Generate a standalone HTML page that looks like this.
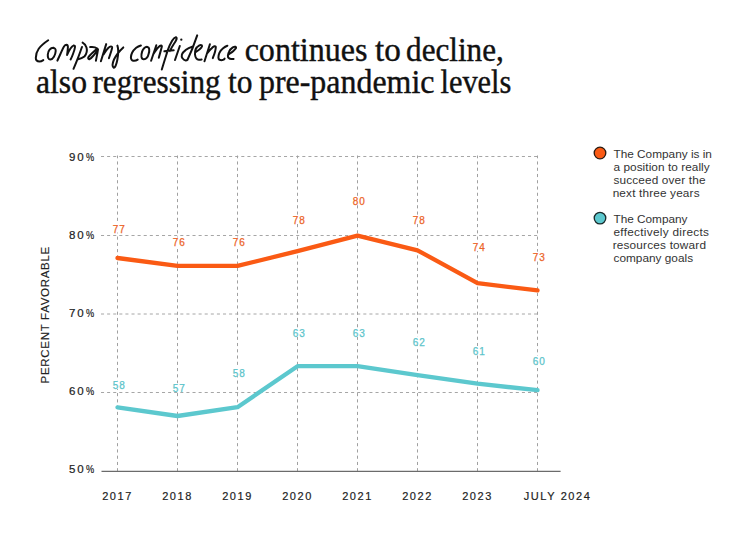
<!DOCTYPE html>
<html><head><meta charset="utf-8"><style>
html,body{margin:0;padding:0;background:#fff;width:750px;height:544px;overflow:hidden}
svg{display:block}
.dl{font-family:"Liberation Sans",sans-serif;font-size:10px;text-anchor:middle;stroke-width:0.25px;letter-spacing:0.9px}
.yl{font-family:"Liberation Sans",sans-serif;font-size:11.5px;fill:#222;stroke:#222;stroke-width:0.2px;letter-spacing:1.9px}
.xl{font-family:"Liberation Sans",sans-serif;font-size:11px;text-anchor:middle;fill:#222;stroke:#222;stroke-width:0.18px;letter-spacing:1.55px}
.at{font-family:"Liberation Sans",sans-serif;font-size:11.5px;text-anchor:middle;fill:#222;stroke:#222;stroke-width:0.15px;letter-spacing:0.7px}
.lg{font-family:"Liberation Sans",sans-serif;font-size:11.8px;fill:#333333}
.tt{font-family:"Liberation Serif",serif;font-size:33px;fill:#111;stroke:#111;stroke-width:0.4px}
.halo{fill:#fff;stroke:#fff;stroke-width:2.6px!important}
.hw{fill:none;stroke:#111;stroke-width:2.0;stroke-linecap:round;stroke-linejoin:round}
</style></head><body>
<svg width="750" height="544" viewBox="0 0 750 544">
<line x1="101.0" y1="156.5" x2="537.5" y2="156.5" stroke="#a6a6a6" stroke-width="1" stroke-dasharray="3.05 3.05"/>
<line x1="101.0" y1="235.5" x2="537.5" y2="235.5" stroke="#a6a6a6" stroke-width="1" stroke-dasharray="3.05 3.05"/>
<line x1="101.0" y1="314.0" x2="537.5" y2="314.0" stroke="#a6a6a6" stroke-width="1" stroke-dasharray="3.05 3.05"/>
<line x1="101.0" y1="392.5" x2="537.5" y2="392.5" stroke="#a6a6a6" stroke-width="1" stroke-dasharray="3.05 3.05"/>
<line x1="117.5" y1="471.3" x2="117.5" y2="155.5" stroke="#a0a0a0" stroke-width="1" stroke-dasharray="3.13 3.13"/>
<line x1="177.5" y1="471.3" x2="177.5" y2="155.5" stroke="#a0a0a0" stroke-width="1" stroke-dasharray="3.13 3.13"/>
<line x1="237.5" y1="471.3" x2="237.5" y2="155.5" stroke="#a0a0a0" stroke-width="1" stroke-dasharray="3.13 3.13"/>
<line x1="297.5" y1="471.3" x2="297.5" y2="155.5" stroke="#a0a0a0" stroke-width="1" stroke-dasharray="3.13 3.13"/>
<line x1="357.5" y1="471.3" x2="357.5" y2="155.5" stroke="#a0a0a0" stroke-width="1" stroke-dasharray="3.13 3.13"/>
<line x1="417.5" y1="471.3" x2="417.5" y2="155.5" stroke="#a0a0a0" stroke-width="1" stroke-dasharray="3.13 3.13"/>
<line x1="477.5" y1="471.3" x2="477.5" y2="155.5" stroke="#a0a0a0" stroke-width="1" stroke-dasharray="3.13 3.13"/>
<line x1="537.5" y1="471.3" x2="537.5" y2="155.5" stroke="#a0a0a0" stroke-width="1" stroke-dasharray="3.13 3.13"/>
<line x1="101.5" y1="471.3" x2="560.6" y2="471.3" stroke="#6b6b6b" stroke-width="1.3"/>
<polyline points="117.5,258.0 177.5,265.9 237.5,265.9 297.5,251.2 357.5,235.7 417.5,250.3 477.5,283.2 537.5,290.4" fill="none" stroke="#FA5A14" stroke-width="4.3" stroke-linejoin="round" stroke-linecap="round"/>
<polyline points="117.5,407.4 177.5,416.0 237.5,407.2 297.5,366.2 357.5,366.2 417.5,375.1 477.5,383.7 537.5,390.2" fill="none" stroke="#5CC8CE" stroke-width="4.3" stroke-linejoin="round" stroke-linecap="round"/>
<rect x="112.25" y="224.00" width="14" height="8.6" fill="#fff"/>
<text x="119.25" y="232.90" class="dl" fill="#EC6428" stroke="#EC6428">77</text>
<rect x="172.25" y="237.40" width="14" height="8.6" fill="#fff"/>
<text x="179.25" y="246.30" class="dl" fill="#EC6428" stroke="#EC6428">76</text>
<rect x="232.25" y="237.40" width="14" height="8.6" fill="#fff"/>
<text x="239.25" y="246.30" class="dl" fill="#EC6428" stroke="#EC6428">76</text>
<rect x="292.25" y="215.30" width="14" height="8.6" fill="#fff"/>
<text x="299.25" y="224.20" class="dl" fill="#EC6428" stroke="#EC6428">78</text>
<rect x="352.25" y="196.10" width="14" height="8.6" fill="#fff"/>
<text x="359.25" y="205.00" class="dl" fill="#EC6428" stroke="#EC6428">80</text>
<rect x="412.25" y="215.30" width="14" height="8.6" fill="#fff"/>
<text x="419.25" y="224.20" class="dl" fill="#EC6428" stroke="#EC6428">78</text>
<rect x="472.25" y="242.30" width="14" height="8.6" fill="#fff"/>
<text x="479.25" y="251.20" class="dl" fill="#EC6428" stroke="#EC6428">74</text>
<rect x="532.25" y="251.70" width="14" height="8.6" fill="#fff"/>
<text x="539.25" y="260.60" class="dl" fill="#EC6428" stroke="#EC6428">73</text>
<rect x="112.25" y="380.30" width="14" height="8.6" fill="#fff"/>
<text x="119.25" y="389.20" class="dl" fill="#5CC4CA" stroke="#5CC4CA">58</text>
<rect x="172.25" y="383.30" width="14" height="8.6" fill="#fff"/>
<text x="179.25" y="392.20" class="dl" fill="#5CC4CA" stroke="#5CC4CA">57</text>
<rect x="232.25" y="367.70" width="14" height="8.6" fill="#fff"/>
<text x="239.25" y="376.60" class="dl" fill="#5CC4CA" stroke="#5CC4CA">58</text>
<rect x="292.25" y="328.30" width="14" height="8.6" fill="#fff"/>
<text x="299.25" y="337.20" class="dl" fill="#5CC4CA" stroke="#5CC4CA">63</text>
<rect x="352.25" y="328.30" width="14" height="8.6" fill="#fff"/>
<text x="359.25" y="337.20" class="dl" fill="#5CC4CA" stroke="#5CC4CA">63</text>
<rect x="412.25" y="336.70" width="14" height="8.6" fill="#fff"/>
<text x="419.25" y="345.60" class="dl" fill="#5CC4CA" stroke="#5CC4CA">62</text>
<rect x="472.25" y="346.20" width="14" height="8.6" fill="#fff"/>
<text x="479.25" y="355.10" class="dl" fill="#5CC4CA" stroke="#5CC4CA">61</text>
<rect x="532.25" y="355.80" width="14" height="8.6" fill="#fff"/>
<text x="539.25" y="364.70" class="dl" fill="#5CC4CA" stroke="#5CC4CA">60</text>
<text x="69.0" y="160.8" class="yl">90</text>
<text transform="translate(85.9,160.8) scale(0.8,1)" class="yl">%</text>
<text x="69.0" y="238.7" class="yl">80</text>
<text transform="translate(85.9,238.7) scale(0.8,1)" class="yl">%</text>
<text x="69.0" y="317" class="yl">70</text>
<text transform="translate(85.9,317) scale(0.8,1)" class="yl">%</text>
<text x="69.0" y="395" class="yl">60</text>
<text transform="translate(85.9,395) scale(0.8,1)" class="yl">%</text>
<text x="69.0" y="473.2" class="yl">50</text>
<text transform="translate(85.9,473.2) scale(0.8,1)" class="yl">%</text>
<text x="117.5" y="500.3" class="xl">2017</text>
<text x="177.5" y="500.3" class="xl">2018</text>
<text x="237.5" y="500.3" class="xl">2019</text>
<text x="297.5" y="500.3" class="xl">2020</text>
<text x="357.5" y="500.3" class="xl">2021</text>
<text x="417.5" y="500.3" class="xl">2022</text>
<text x="477.5" y="500.3" class="xl">2023</text>
<text x="557.6" y="500.3" class="xl" style="letter-spacing:1.6px">JULY 2024</text>
<text transform="translate(48.8,314.8) rotate(-90)" class="at">PERCENT FAVORABLE</text>
<circle cx="600" cy="153" r="5.8" fill="#FA5A14" stroke="#2a1a10" stroke-width="1.3"/>
<circle cx="600" cy="218.1" r="5.8" fill="#5CC8CE" stroke="#1a2a2a" stroke-width="1.3"/>
<text x="613.46" y="157.50" class="lg" textLength="98.42" lengthAdjust="spacing">The Company is in</text>
<text x="613.46" y="170.50" class="lg" textLength="96.20" lengthAdjust="spacing">a position to really</text>
<text x="613.46" y="183.50" class="lg" textLength="92.04" lengthAdjust="spacing">succeed over the</text>
<text x="612.66" y="196.50" class="lg" textLength="86.92" lengthAdjust="spacing">next three years</text>
<text x="613.46" y="222.50" class="lg" textLength="74.04" lengthAdjust="spacing">The Company</text>
<text x="613.46" y="235.65" class="lg" textLength="95.50" lengthAdjust="spacing">effectively directs</text>
<text x="612.66" y="248.80" class="lg" textLength="93.34" lengthAdjust="spacing">resources toward</text>
<text x="613.46" y="261.95" class="lg" textLength="79.58" lengthAdjust="spacing">company goals</text>
<path class="hw" d="M48.2,40.3 C45,42.5 41,45.5 38.7,48.8 C36.8,51.5 35.8,55 35.8,58 C35.8,60.5 37,61.4 39.5,61.5 C41,61.5 42.3,60.8 43.3,60.1 M53.6,47.8 C50.5,47.5 48,51 47.8,54.5 C47.6,57.5 48.5,59.6 50.3,59.6 C53,59.4 55.5,55 55.7,51 C55.8,48.8 54.8,47.8 52.5,48 M57.4,60.6 C58.5,58 59.8,55.5 60.9,52.9 C62,50.5 63,48 64,46.5 C64.8,45.3 65.6,44.7 66.4,44.7 C67.6,44.8 68,45.8 67.9,47.5 C67.8,50 67.4,52.5 67.1,55 C68,52.5 69.2,50.5 70.3,48.8 C71.3,47.2 72.3,46 73.4,45.6 C74.4,45.4 75.1,45.9 75,47 C74.8,49 74,51.5 73,54 C72.3,56 71.5,57.8 70.6,59.4 M82,47 C80.5,51 79,55.5 77.4,59.4 C76.2,62.5 74.8,66 73.5,68.8 M82.6,42.6 C84.3,43.5 85.7,45 86.5,47.5 C87.2,50 86.5,54 84.4,56.5 C82.5,58.2 79.5,59 77.4,59.4 M90.2,47.1 C92.5,46.8 95.5,47.2 97.3,48.5 C94,51.5 90.5,54.5 88.5,57 C87.8,58.3 88.3,59.5 89.5,59.2 C91.5,58 94.5,54.5 97.6,50.3 M98,49.3 C97.5,53 96.6,57 95.9,60.7 M106.2,44.1 L100.9,61.2 M103.3,54.7 C104.8,52.5 106.3,50 108,48.2 C109,47.2 110,46.5 110.9,46.5 C111.9,46.5 112.2,47 112.1,47.9 C111.5,51 110.2,54.5 108.9,58.2 M123.3,47.4 C120.5,50 116,55 114,59.5 C112.5,63 112.3,66.5 113.6,67.6 C115,68.3 116.5,64 117.3,60 C118,56.5 118.3,53 118.2,50.5 C118.1,48.5 117.8,46.8 117.4,45.6 M140.9,45.5 C139.2,46 137.5,46.8 136.2,47.8 C134.5,49.2 133,51 132.1,52.8 C131.3,54.5 130.9,56 130.9,57.5 C131,59.5 131.8,60.5 133.2,60.8 C134.5,61 136.5,60.5 137.7,59.6 M147.4,46.9 C145,46.5 142.8,49.5 142.1,51.6 C141.5,53.5 141.3,55.5 141.5,56.9 C141.8,58.5 142.7,59.4 143.9,59.3 C146,59.1 148,56.5 148.6,54 C149.2,52 149.4,50.5 149.2,49.3 C149,47.8 148.3,47 147,47 M156.3,45.2 L151.1,60.7 M153.3,54.1 C154.8,51.8 156.5,49.2 158.1,47.5 C159,46.6 160.2,45.6 161,45.6 C161.8,45.7 162,46.2 161.8,46.8 C160.9,50.5 159.8,54 158.8,57.8 M161.8,69.5 C163.7,63 165.8,56.5 167.7,50.4 C169,46.5 170.5,43.5 172.1,40.8 C173.2,39 174.5,37.4 175.8,37.2 C176.6,37.2 176.8,38.3 176.5,39.4 C175.8,41.2 174.8,42.8 173.5,44.5 C172.2,46.5 170.9,48.8 169.9,51.1 M164.4,51.3 C167.5,50.9 170.5,50.6 173.7,50.3 M179.8,46 L175,60 M197.2,35.4 C194.5,43.5 191,52.5 187.5,59.8 M192.2,46.7 C189.8,47.3 187.5,48.5 185.6,50.1 C183.8,51.5 182.3,53 181.9,54.5 C181.5,56 181.7,57.3 182.5,58.3 C183.3,59.5 184.5,60.3 185.6,60.4 C186.5,60.4 187.1,60.2 187.5,59.8 M195.9,52 C197.8,50.8 200,49.3 201.3,47.6 C202,46.7 202.3,45.8 201.9,45.4 C201.2,45 200.2,45 199.4,45.4 C197.8,46.3 196.3,47.8 195.6,49.5 C195,51 194.9,53 195,54.5 C195.2,56.5 195.6,57.5 196.3,58.3 C197,59.2 197.8,59.7 198.8,59.8 C199.8,59.9 200.8,59.7 201.6,59.5 M209.9,44.2 L204.5,61.2 M207.1,53.4 C208.4,51.8 209.8,50 211.2,48.8 C212.2,47.5 213.3,46.5 214.3,46.2 C215.2,46.1 215.9,46.5 215.8,47.3 C215.7,48.8 215.5,50 215.1,51.4 C214.5,53.8 213.6,56 212.8,58.1 M227.4,45.7 C226,46.2 224.4,47.2 223.1,48.3 C221.5,49.6 220.2,51.2 219.4,52.9 C218.7,54.5 218.3,56 218.4,57.6 C218.6,59 219.4,60 220.5,60.1 C221.6,60.3 222.7,60 223.6,59.6 C224,59.3 224.3,59 224.6,58.6 M228.7,54.5 C230.3,53.3 231.9,52.2 233.4,50.9 C234.5,50 235.4,49.1 235.9,48.3 C236.2,47.6 236,47 235.4,46.8 C234.6,46.6 233.6,46.9 232.8,47.3 C231.3,48.3 230,49.7 229.2,51.4 C228.5,52.7 228,54.2 227.9,55.5 C227.8,56.7 228.1,57.5 228.7,58.1 C229.5,58.8 230.3,59.1 231.3,59.1 C232.1,59.1 232.9,59 233.6,58.9"/>
<circle cx="181.3" cy="39.7" r="1.15" fill="#111"/>
<text x="244.66" y="61" class="tt" textLength="122.72" lengthAdjust="spacingAndGlyphs">continues</text>
<text x="375.00" y="61" class="tt" textLength="25.80" lengthAdjust="spacingAndGlyphs">to</text>
<text x="406.08" y="61" class="tt" textLength="97.72" lengthAdjust="spacingAndGlyphs">decline,</text>
<text x="36.00" y="93.3" class="tt" textLength="50.96" lengthAdjust="spacingAndGlyphs">also</text>
<text x="92.46" y="93.3" class="tt" textLength="128.20" lengthAdjust="spacingAndGlyphs">regressing</text>
<text x="228.00" y="93.3" class="tt" textLength="24.50" lengthAdjust="spacingAndGlyphs">to</text>
<text x="259.00" y="93.3" class="tt" textLength="175.42" lengthAdjust="spacingAndGlyphs">pre-pandemic</text>
<text x="440.50" y="93.3" class="tt" textLength="70.88" lengthAdjust="spacingAndGlyphs">levels</text>
</svg>
</body></html>
